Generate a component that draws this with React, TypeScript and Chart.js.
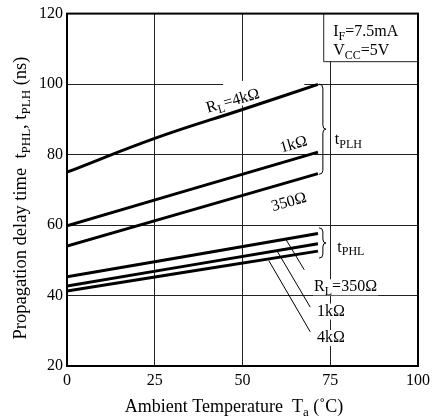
import { useEffect, useRef } from "react";
import { Chart, registerables } from "chart.js";

Chart.register(...registerables);

// ---- data ----
const xTicks = [0, 25, 50, 75, 100];
const yTicks = [20, 40, 60, 80, 100, 120];

const tempPLH4k = [0, 25, 50, 71.5];
const plh4k = [75, 84.6, 92.8, 99.9];

const tempEnds = [0, 71.5];
const plh1k = [59.8, 80.7];
const plh350 = [54, 74.6];
const phl350 = [45.3, 57.6];
const phl1k = [42.7, 54.7];
const phl4k = [41.3, 52.6];

const FONT = '"Liberation Serif", "Times New Roman", serif';

type Seg = { t: string; sub?: boolean };

function segFont(size: number, sub?: boolean) {
  return `${sub ? Math.round(size * 0.72) : size}px ${FONT}`;
}
function richWidth(ctx: CanvasRenderingContext2D, segs: Seg[], size: number) {
  let w = 0;
  for (const s of segs) {
    ctx.font = segFont(size, s.sub);
    w += ctx.measureText(s.t).width;
  }
  return w;
}
function drawRich(
  ctx: CanvasRenderingContext2D,
  segs: Seg[],
  x: number,
  y: number,
  size: number,
  align: "left" | "center" = "left"
) {
  const w = richWidth(ctx, segs, size);
  let cx = align === "center" ? x - w / 2 : x;
  ctx.textAlign = "left";
  ctx.textBaseline = "alphabetic";
  for (const s of segs) {
    ctx.font = segFont(size, s.sub);
    ctx.fillText(s.t, cx, y + (s.sub ? size * 0.22 : 0));
    cx += ctx.measureText(s.t).width;
  }
  return w;
}

function brace(ctx: CanvasRenderingContext2D, x0: number, yTop: number, yBot: number, w: number) {
  const ym = (yTop + yBot) / 2;
  const xm = x0 + w * 0.55;
  const r = 4;
  ctx.beginPath();
  ctx.moveTo(x0, yTop);
  ctx.quadraticCurveTo(xm, yTop, xm, yTop + r);
  ctx.lineTo(xm, ym - r);
  ctx.quadraticCurveTo(xm, ym, x0 + w, ym);
  ctx.quadraticCurveTo(xm, ym, xm, ym + r);
  ctx.lineTo(xm, yBot - r);
  ctx.quadraticCurveTo(xm, yBot, x0, yBot);
  ctx.stroke();
}

const annotPlugin = {
  id: "annot",
  beforeDatasetsDraw(chart: any) {
    const { ctx, scales } = chart;
    const X = (v: number) => scales.x.getPixelForValue(v);
    const Y = (v: number) => scales.y.getPixelForValue(v);
    const a = chart.chartArea;
    ctx.save();
    ctx.fillStyle = "#fff";
    // break in the 100 ns grid line behind the R_L=4kΩ label
    ctx.fillRect(X(44.5), Y(100) - 2, X(67.6) - X(44.5), 4);
    // break in the 50 °C grid line
    ctx.fillRect(X(50) - 2, Y(100.9), 4, Y(93.9) - Y(100.9));
    // conditions box
    const bx = X(73);
    const by = Y(106.5);
    ctx.fillRect(bx, a.top, a.right - bx, by - a.top);
    ctx.strokeStyle = "#222";
    ctx.lineWidth = 1;
    ctx.beginPath();
    ctx.moveTo(bx + 0.5, a.top);
    ctx.lineTo(bx + 0.5, by + 0.5);
    ctx.lineTo(a.right, by + 0.5);
    ctx.stroke();
    ctx.fillStyle = "#000";
    drawRich(ctx, [{ t: "I" }, { t: "F", sub: true }, { t: "=7.5mA" }], bx + 10, a.top + 22.5, 16);
    drawRich(ctx, [{ t: "V" }, { t: "CC", sub: true }, { t: "=5V" }], bx + 10, a.top + 41.5, 16);
    ctx.restore();
  },
  afterDatasetsDraw(chart: any) {
    const { ctx, scales } = chart;
    const X = (v: number) => scales.x.getPixelForValue(v);
    const Y = (v: number) => scales.y.getPixelForValue(v);
    const a = chart.chartArea;
    ctx.save();
    ctx.fillStyle = "#000";
    ctx.strokeStyle = "#000";

    // rotated labels on t_PLH curves
    const rot = (segs: Seg[], xv: number, yv: number, ang: number) => {
      ctx.save();
      ctx.translate(X(xv), Y(yv));
      ctx.rotate((ang * Math.PI) / 180);
      drawRich(ctx, segs, 0, 0, 16, "center");
      ctx.restore();
    };
    rot([{ t: "R" }, { t: "L", sub: true }, { t: "=4kΩ" }], 47.6, 94.0, -16);
    rot([{ t: "1kΩ" }], 64.9, 81.6, -16);
    rot([{ t: "350Ω" }], 63.6, 65.3, -16);

    // braces
    ctx.lineWidth = 1;
    brace(ctx, X(71.8), Y(100), Y(74.4), 7);
    brace(ctx, X(71.8), Y(59.2), Y(50.6), 7);
    drawRich(ctx, [{ t: "t" }, { t: "PLH", sub: true }], X(76.3), Y(83), 16);
    drawRich(ctx, [{ t: "t" }, { t: "PHL", sub: true }], X(77), Y(52.4), 16);

    // leader lines for t_PHL
    ctx.lineWidth = 1;
    const lead = (x1: number, y1: number, x2: number, y2: number) => {
      ctx.beginPath();
      ctx.moveTo(X(x1), Y(y1));
      ctx.lineTo(X(x2), Y(y2));
      ctx.stroke();
    };
    lead(62.2, 56.2, 67.6, 47.3);
    lead(60, 52.4, 69.3, 36.7);
    lead(57.5, 49.9, 69.3, 29.7);

    // label backgrounds + labels
    const lab = (segs: Seg[], xv: number, base: number) => {
      const w = richWidth(ctx, segs, 16);
      ctx.fillStyle = "#fff";
      ctx.fillRect(X(xv) - 1, Y(base) - 12, w + 2, 16);
      ctx.fillStyle = "#000";
      drawRich(ctx, segs, X(xv), Y(base), 16);
    };
    lab([{ t: "R" }, { t: "L", sub: true }, { t: "=350Ω" }], 70.4, 41.2);
    lab([{ t: "1kΩ" }], 71.2, 34.3);
    lab([{ t: "4kΩ" }], 71.2, 26.8);

    // plot frame
    ctx.lineWidth = 2;
    ctx.strokeStyle = "#000";
    ctx.strokeRect(a.left, a.top, a.right - a.left, a.bottom - a.top);
    ctx.restore();
  },
  afterDraw(chart: any) {
    const { ctx } = chart;
    ctx.save();
    ctx.fillStyle = "#000";
    drawRich(
      ctx,
      [{ t: "Ambient Temperature  T" }, { t: "a", sub: true }, { t: " (˚C)" }],
      234,
      412,
      18,
      "center"
    );
    ctx.translate(26, 198);
    ctx.rotate(-Math.PI / 2);
    drawRich(
      ctx,
      [
        { t: "Propagation delay time  t" },
        { t: "PHL", sub: true },
        { t: ", t" },
        { t: "PLH", sub: true },
        { t: " (ns)" },
      ],
      0,
      0,
      18.5,
      "center"
    );
    ctx.restore();
  },
};

export default function App() {
  const ref = useRef<HTMLCanvasElement>(null);
  useEffect(() => {
    if (!ref.current) return;
    const mk = (xs: number[], ys: number[]) => ({
      data: xs.map((x, i) => ({ x, y: ys[i] })),
      borderColor: "#000",
      borderWidth: 3,
      pointRadius: 0,
      fill: false,
      tension: 0.4,
    });
    const tickFont = { family: FONT, size: 16 };
    const chart = new Chart(ref.current, {
      type: "line",
      data: {
        datasets: [
          mk(tempPLH4k, plh4k),
          mk(tempEnds, plh1k),
          mk(tempEnds, plh350),
          mk(tempEnds, phl350),
          mk(tempEnds, phl1k),
          mk(tempEnds, phl4k),
        ],
      },
      options: {
        responsive: false,
        animation: false,
        layout: { padding: { top: 10, right: 13, left: 0, bottom: 0 } },
        plugins: { legend: { display: false }, tooltip: { enabled: false } },
        scales: {
          x: {
            type: "linear",
            min: 0,
            max: 100,
            afterFit(s: any) {
              s.height = 53;
            },
            afterBuildTicks(s: any) {
              s.ticks = xTicks.map((v) => ({ value: v }));
            },
            grid: { color: "#222", lineWidth: 1, drawTicks: false },
            border: { display: false },
            ticks: { font: tickFont, color: "#000", padding: 5, maxRotation: 0 },
          },
          y: {
            type: "linear",
            min: 20,
            max: 120,
            afterFit(s: any) {
              s.width = 67;
            },
            afterBuildTicks(s: any) {
              s.ticks = yTicks.map((v) => ({ value: v }));
            },
            grid: { color: "#222", lineWidth: 1, drawTicks: false },
            border: { display: false },
            ticks: { font: tickFont, color: "#000", padding: 4 },
          },
        },
      },
      plugins: [annotPlugin],
    });
    return () => chart.destroy();
  }, []);
  return (
    <div style={{ position: "absolute", left: 0, top: 0, width: 435, height: 419, background: "#fff" }}>
      <canvas ref={ref} width={435} height={419} />
    </div>
  );
}
